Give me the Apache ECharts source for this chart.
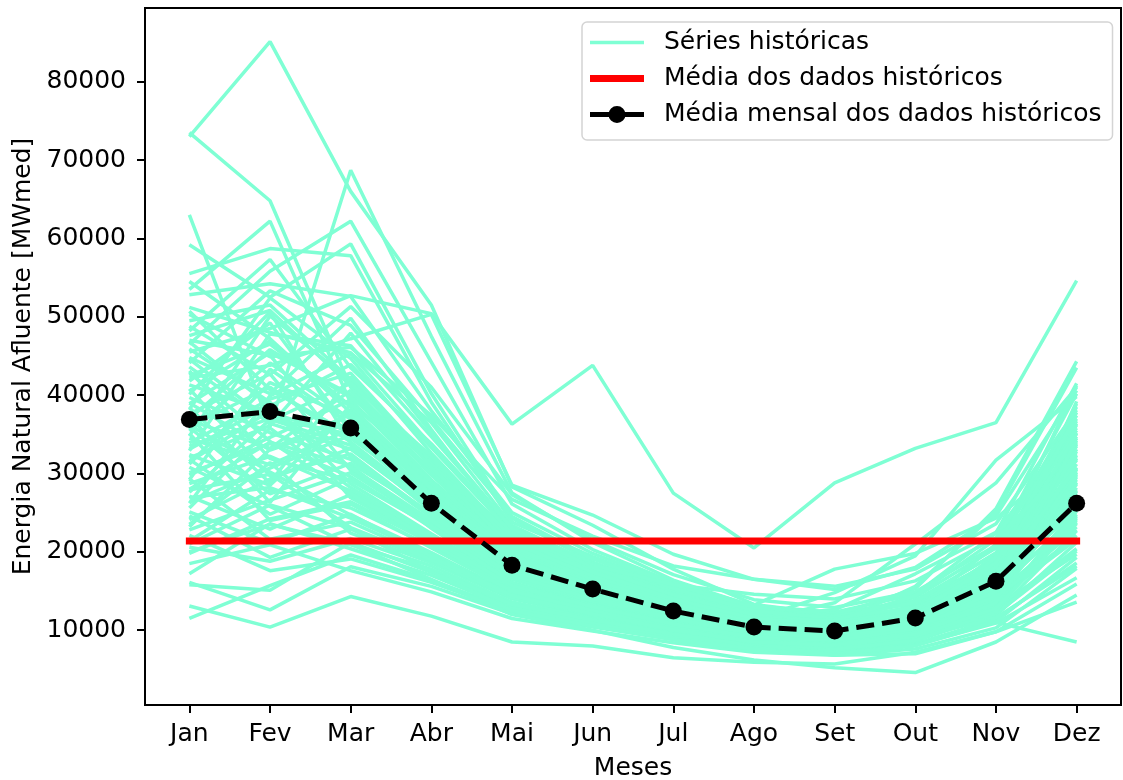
<!DOCTYPE html>
<html>
<head>
<meta charset="utf-8">
<script src="https://cdn.jsdelivr.net/npm/echarts@6/dist/echarts.min.js"></script>
<style>
html,body{margin:0;padding:0;background:#fff;}
#chart{width:1123px;height:780px;}
</style>
</head>
<body>
<div id="chart"></div>
<script>
const months = ['Jan','Fev','Mar','Abr','Mai','Jun','Jul','Ago','Set','Out','Nov','Dez'];
const yTicks = [10000,20000,30000,40000,50000,60000,70000,80000];
const monthlyMean = [36900, 37900, 35800, 26200, 18300, 15250, 12450, 10400, 9900, 11550, 16250, 26200];
const overallMean = [21400];

const h01 = [73000, 85100, 66000, 51500, 28300, 23400, 17800, 13300, 12000, 13500, 19000, 30500];
const h02 = [73500, 64800, 41000, 31000, 22500, 18000, 14800, 12200, 11600, 14200, 20500, 38500];
const h03 = [63000, 36000, 68700, 47500, 27500, 21200, 16400, 13000, 12100, 13800, 19800, 33500];
const h04 = [45500, 48500, 52700, 50400, 36300, 43800, 27500, 20500, 28800, 33200, 36500, 54600];
const h05 = [53500, 62200, 39000, 30500, 21500, 16800, 13600, 11200, 10600, 13200, 18400, 36200];
const h06 = [46500, 55800, 62200, 44200, 26100, 20300, 16100, 13100, 12300, 14600, 22400, 41500];
const h07 = [59200, 52500, 59300, 40200, 24300, 18700, 15100, 12200, 11200, 13000, 17100, 30200];
const h08 = [55500, 58700, 57800, 39100, 23800, 19400, 15600, 12600, 11900, 15300, 25500, 44300];
const h09 = [48200, 57300, 43500, 33800, 22800, 17900, 14700, 12000, 11300, 12800, 16400, 28800];
const h10 = [52800, 54200, 52600, 38000, 25000, 19800, 15900, 12800, 11800, 13400, 18900, 31700];
const h11 = [42200, 43800, 47200, 50300, 28500, 24700, 19700, 16500, 15200, 18000, 24600, 40600];
const h12 = [51200, 48000, 45400, 36500, 23400, 18500, 14900, 12400, 11000, 12200, 16200, 27200];
const h13 = [47600, 50800, 41200, 30200, 20600, 16600, 13500, 11200, 10200, 11800, 15600, 25800];
const h14 = [44800, 40200, 49800, 35600, 22100, 17300, 14100, 11600, 10900, 12700, 17600, 32800];
const h15 = [40500, 46900, 38600, 28400, 19500, 15900, 12900, 10700, 10100, 11400, 14900, 24800];
const h16 = [38200, 52400, 44700, 32600, 21700, 17100, 13900, 11500, 10400, 12100, 16800, 29500];
const h17 = [36800, 33200, 40600, 29800, 20200, 16300, 13200, 10900, 10300, 12500, 17900, 35200];
const h18 = [41300, 37800, 34500, 27100, 18900, 15400, 12600, 10500, 9800, 11100, 15200, 26800];
const h19 = [35400, 44100, 36900, 26500, 18400, 14900, 12200, 10100, 9600, 10900, 14600, 23200];
const h20 = [33900, 39500, 42800, 31500, 20900, 16700, 13400, 11000, 10500, 13100, 19200, 37800];
const h21 = [39700, 35200, 31800, 24400, 17200, 14100, 11600, 9700, 9300, 10600, 15800, 29900];
const h22 = [31200, 41600, 37200, 27600, 18700, 15100, 12300, 10300, 9900, 12400, 21000, 40200];
const h23 = [43600, 36400, 33100, 25600, 17800, 14600, 11900, 9900, 9400, 10300, 13800, 22100];
const h24 = [29800, 34600, 39400, 28900, 19800, 15800, 12800, 10600, 10000, 11600, 16900, 31200];
const h25 = [37600, 42700, 30400, 23800, 16900, 13900, 11400, 9600, 9100, 10100, 14200, 27700];
const h26 = [34500, 31100, 35700, 26800, 18200, 14800, 12100, 10100, 9500, 11300, 18300, 38900];
const h27 = [45900, 39100, 28700, 22300, 16100, 13300, 10900, 9200, 8700, 9800, 13400, 24300];
const h28 = [27600, 36900, 33600, 25200, 17500, 14300, 11700, 9800, 9300, 10800, 15400, 28200];
const h29 = [32400, 28500, 38100, 27900, 19100, 15300, 12500, 10400, 9900, 12000, 17300, 33700];
const h30 = [38900, 45400, 40100, 29200, 20100, 16200, 13100, 10900, 10200, 11700, 16100, 25300];
const h31 = [30100, 33800, 29600, 23100, 16500, 13600, 11200, 9400, 8900, 10400, 14700, 30700];
const h32 = [26300, 30700, 34900, 26100, 18000, 14700, 12000, 10000, 9500, 11900, 19600, 36400];
const h33 = [35900, 27400, 31300, 24900, 17300, 14200, 11600, 9700, 9200, 10500, 13900, 21600];
const h34 = [41800, 49200, 35300, 25900, 17700, 14500, 11800, 9800, 9300, 10700, 15100, 26400];
const h35 = [28700, 32200, 27800, 21800, 15800, 13100, 10800, 9100, 8600, 9900, 13200, 23800];
const h36 = [24100, 29300, 33200, 25400, 17600, 14400, 11800, 9900, 9400, 11500, 16600, 32300];
const h37 = [33100, 38700, 26900, 21200, 15400, 12800, 10600, 8900, 8400, 9600, 12600, 20400];
const h38 = [22800, 26600, 30100, 23600, 16700, 13800, 11300, 9500, 9000, 10200, 14100, 27400];
const h39 = [36200, 30200, 24700, 19900, 14700, 12300, 10200, 8600, 8200, 9300, 12900, 25600];
const h40 = [25600, 35800, 28200, 22000, 15900, 13200, 10900, 9200, 8800, 10600, 17400, 34500];
const h41 = [31800, 24800, 29400, 23400, 16600, 13700, 11300, 9500, 9100, 11000, 15600, 28900];
const h42 = [21400, 27900, 25600, 20700, 15100, 12600, 10400, 8800, 8300, 9500, 13600, 24600];
const h43 = [27100, 22900, 27300, 21500, 15600, 13000, 10700, 9000, 8500, 9900, 14400, 31900];
const h44 = [23500, 31400, 22400, 18600, 14000, 11800, 9800, 8300, 7900, 9100, 12300, 22700];
const h45 = [19800, 24200, 26400, 21100, 15300, 12700, 10500, 8900, 8400, 10000, 15900, 29200];
const h46 = [29300, 21600, 23800, 19200, 14300, 12000, 10000, 8500, 8100, 9400, 13000, 19700];
const h47 = [20600, 18800, 21700, 18200, 13600, 11500, 9600, 8100, 7700, 8900, 11900, 21200];
const h48 = [16100, 12600, 18100, 15600, 12100, 10400, 8800, 7500, 7100, 8300, 11400, 18600];
const h49 = [13100, 10400, 14300, 11800, 8500, 8000, 6500, 5900, 5700, 7200, 9800, 15900];
const h50 = [11500, 15700, 19600, 16400, 12600, 10800, 9100, 7800, 7300, 8100, 10900, 16700];
const h51 = [15800, 15100, 21200, 17400, 13100, 11100, 9300, 7900, 7400, 8600, 12100, 20100];
const h52 = [18500, 20900, 17600, 14900, 11500, 9900, 8400, 7200, 6800, 7600, 10300, 17900];
const h53 = [22100, 17600, 19100, 16100, 12400, 10600, 8900, 7600, 7000, 8000, 11100, 19300];
const h54 = [17200, 23600, 20400, 17000, 12800, 10900, 9200, 7800, 7400, 8800, 12700, 24100];
const h55 = [26900, 28200, 24300, 19600, 14500, 12200, 10100, 8600, 8200, 9700, 14800, 33100];
const h56 = [24600, 19300, 22900, 18900, 14100, 11900, 9900, 8400, 7900, 9000, 11600, 18200];
const h57 = [30800, 25800, 20900, 17800, 13300, 11300, 9500, 8100, 7600, 8700, 12400, 25200];
const h58 = [21000, 26000, 23000, 17500, 12500, 10500, 8800, 7600, 8000, 12500, 11000, 8500];
const h59 = [20000, 23500, 21000, 16500, 12000, 10000, 7800, 6200, 5200, 4600, 8500, 14500];
const h60 = [28000, 34000, 31000, 23000, 16000, 12900, 10500, 8300, 6800, 7000, 9800, 13600];
const h61 = [36000, 41000, 34000, 26000, 18500, 15000, 12700, 11200, 13500, 21000, 28800, 41000];
const h62 = [42500, 46500, 38500, 28600, 19600, 15600, 12800, 11400, 14800, 19500, 31700, 39800];
const h63 = [49500, 51500, 42000, 31600, 21300, 16900, 13600, 11800, 12600, 17200, 22500, 35800];
const h64 = [33500, 37000, 35000, 27000, 19000, 15500, 13000, 13200, 17800, 19800, 24300, 32500];
const h65 = [39000, 33000, 36500, 28000, 19300, 15700, 12900, 10900, 10800, 15600, 25000, 43500];
const h66 = [46800, 38600, 43900, 33300, 22400, 17700, 14300, 11700, 11000, 12900, 18700, 34700];
const h67 = [54500, 47200, 37800, 29000, 20400, 16400, 13300, 11100, 10700, 12300, 16500, 30500];
const h68 = [40800, 29700, 32500, 24600, 17100, 14000, 11500, 9600, 9000, 10800, 16300, 39200];
const h69 = [32900, 47800, 46300, 34700, 23100, 18200, 14600, 12100, 11400, 13600, 19900, 35500];
const h70 = [44100, 53300, 48900, 36900, 24500, 19100, 15300, 12500, 11500, 12900, 17500, 26100];
const h71 = [50300, 44900, 46100, 37400, 26700, 22000, 18200, 16500, 15600, 17800, 23600, 38100];
const h72 = [37300, 26300, 38800, 30600, 21900, 18300, 15800, 14600, 14000, 16300, 21800, 37000];
const h73 = [48800, 42600, 51300, 41000, 27300, 21500, 17100, 13900, 12900, 14900, 20800, 36700];
const h74 = [34800, 50100, 41800, 31200, 21100, 16900, 13700, 11300, 10600, 11900, 15300, 24500];
const h75 = [29200, 43300, 36200, 27300, 19000, 15400, 12600, 10500, 9700, 11200, 16700, 33900];
const h76 = [43100, 31900, 29100, 23300, 16800, 13800, 11400, 9500, 9000, 10600, 15500, 30100];
const h77 = [26200, 39900, 45300, 33600, 22300, 17600, 14200, 11700, 11000, 12600, 18100, 35100];
const h78 = [38400, 28800, 42300, 30800, 20700, 16500, 13400, 11100, 10400, 11800, 16600, 28600];
const h79 = [47000, 45100, 32100, 24800, 17500, 14300, 11700, 9800, 9200, 11300, 19300, 41200];
const h80 = [32000, 36100, 47900, 35200, 23000, 18000, 14500, 11900, 11100, 12400, 16900, 27000];
const h81 = [40100, 50600, 33900, 25500, 17900, 14700, 12000, 10000, 9500, 10900, 14500, 22800];
const h82 = [23200, 33100, 37500, 28100, 19400, 15700, 12900, 10700, 10100, 12200, 18600, 37400];
const h83 = [50700, 40700, 35000, 26600, 18600, 15200, 12400, 10300, 9700, 11000, 14600, 26900];
const h84 = [35100, 24000, 26100, 20500, 15000, 12500, 10300, 8700, 8200, 9700, 14000, 29700];
const h85 = [27900, 29900, 23100, 19000, 14200, 12000, 10000, 8500, 8000, 9200, 12800, 23600];
const h86 = [37000, 45800, 39700, 31900, 21200, 16900, 13800, 11600, 11200, 14400, 21600, 32000];
const h87 = [25100, 21100, 24800, 19400, 14400, 12100, 10100, 8500, 8100, 9500, 13500, 27900];
const h88 = [42900, 34100, 27400, 21600, 15700, 13000, 10800, 9100, 8700, 10200, 15000, 34200];
const h89 = [31500, 38000, 30800, 24000, 17000, 14000, 11500, 9600, 9100, 10500, 14300, 21900];
const h90 = [44600, 36700, 41500, 32200, 21800, 17400, 14000, 11500, 10800, 12100, 17000, 30800];

const historical = [h01,h02,h03,h04,h05,h06,h07,h08,h09,h10,h11,h12,h13,h14,h15,h16,h17,h18,h19,h20,
  h21,h22,h23,h24,h25,h26,h27,h28,h29,h30,h31,h32,h33,h34,h35,h36,h37,h38,h39,h40,
  h41,h42,h43,h44,h45,h46,h47,h48,h49,h50,h51,h52,h53,h54,h55,h56,h57,h58,h59,h60,
  h61,h62,h63,h64,h65,h66,h67,h68,h69,h70,h71,h72,h73,h74,h75,h76,h77,h78,h79,h80,
  h81,h82,h83,h84,h85,h86,h87,h88,h89,h90];

const NAME_H = 'Séries históricas';
const NAME_M = 'Média dos dados históricos';
const NAME_MM = 'Média mensal dos dados históricos';
const FONT = 'DejaVu Sans';

const series = [];
historical.forEach(arr => {
  series.push({
    name: NAME_H, type: 'line', symbol: 'none', silent: true,
    data: arr.map((v, i) => [i, v]),
    lineStyle: { color: '#7FFFD4', width: 3.5 },
    itemStyle: { color: '#7FFFD4' },
    emphasis: { disabled: true }, animation: false
  });
});
series.push({
  name: NAME_M, type: 'line', symbol: 'none', silent: true,
  data: [[0, overallMean[0]], [months.length - 1, overallMean[0]]],
  lineStyle: { color: '#ff0000', width: 7, cap: 'square' },
  itemStyle: { color: '#ff0000' },
  emphasis: { disabled: true }, animation: false
});
series.push({
  name: NAME_MM, type: 'line', symbol: 'circle', symbolSize: 17, silent: true,
  data: monthlyMean.map((v, i) => [i, v]),
  lineStyle: { color: '#000', width: 5, type: [18, 8] },
  itemStyle: { color: '#000' },
  emphasis: { disabled: true }, animation: false
});

const chart = echarts.init(document.getElementById('chart'), null, { renderer: 'canvas' });
chart.setOption({
  animation: false,
  backgroundColor: '#fff',
  textStyle: { fontFamily: FONT },
  grid: { left: 145, right: 2, top: 8, bottom: 75, show: true, borderColor: '#000', borderWidth: 2,
          backgroundColor: 'transparent', containLabel: false, outerBoundsMode: 'none' },
  legend: {
    orient: 'vertical', left: 582, top: 22,
    padding: [8, 11, 13, 8], itemGap: 11,
    itemWidth: 54, itemHeight: 17,
    backgroundColor: 'rgba(255,255,255,0.85)',
    borderColor: '#d4d4d4', borderWidth: 1.5, borderRadius: 5,
    selectedMode: false,
    textStyle: { fontFamily: FONT, fontSize: 25, color: '#000', padding: [0, 0, 0, 15] },
    data: [
      { name: NAME_H, icon: 'path://M0,0 L54,0 L54,3.5 L0,3.5 Z' },
      { name: NAME_M, icon: 'path://M0,0 L54,0 L54,7 L0,7 Z' },
      { name: NAME_MM, icon: 'path://M0,6 L54,6 L54,11 L0,11 Z M27,0 A8.5,8.5 0 1 1 26.99,0 Z' }
    ]
  },
  xAxis: {
    type: 'value', min: -0.55, max: 11.55,
    name: 'Meses', nameLocation: 'middle', nameGap: 51,
    nameTextStyle: { fontFamily: FONT, fontSize: 25, color: '#000' },
    axisLine: { show: true, onZero: false, lineStyle: { color: '#000', width: 2 } },
    axisTick: { show: true, length: 8, lineStyle: { color: '#000', width: 2 }, customValues: months.map((m, i) => i) },
    axisLabel: { fontFamily: FONT, fontSize: 25, color: '#000', margin: 17, customValues: months.map((m, i) => i), formatter: v => months[Math.round(v)] },
    splitLine: { show: false }
  },
  yAxis: {
    type: 'value', min: 460, max: 89400,
    name: 'Energia Natural Afluente [MWmed]', nameLocation: 'middle', nameGap: 106,
    nameTextStyle: { fontFamily: FONT, fontSize: 25, color: '#000' },
    axisLine: { show: true, onZero: false, lineStyle: { color: '#000', width: 2 } },
    axisTick: { show: true, length: 8, lineStyle: { color: '#000', width: 2 }, customValues: yTicks },
    axisLabel: { fontFamily: FONT, fontSize: 25, color: '#000', margin: 19, customValues: yTicks, formatter: v => String(v) },
    splitLine: { show: false }
  },
  series: series
});
</script>
</body>
</html>
